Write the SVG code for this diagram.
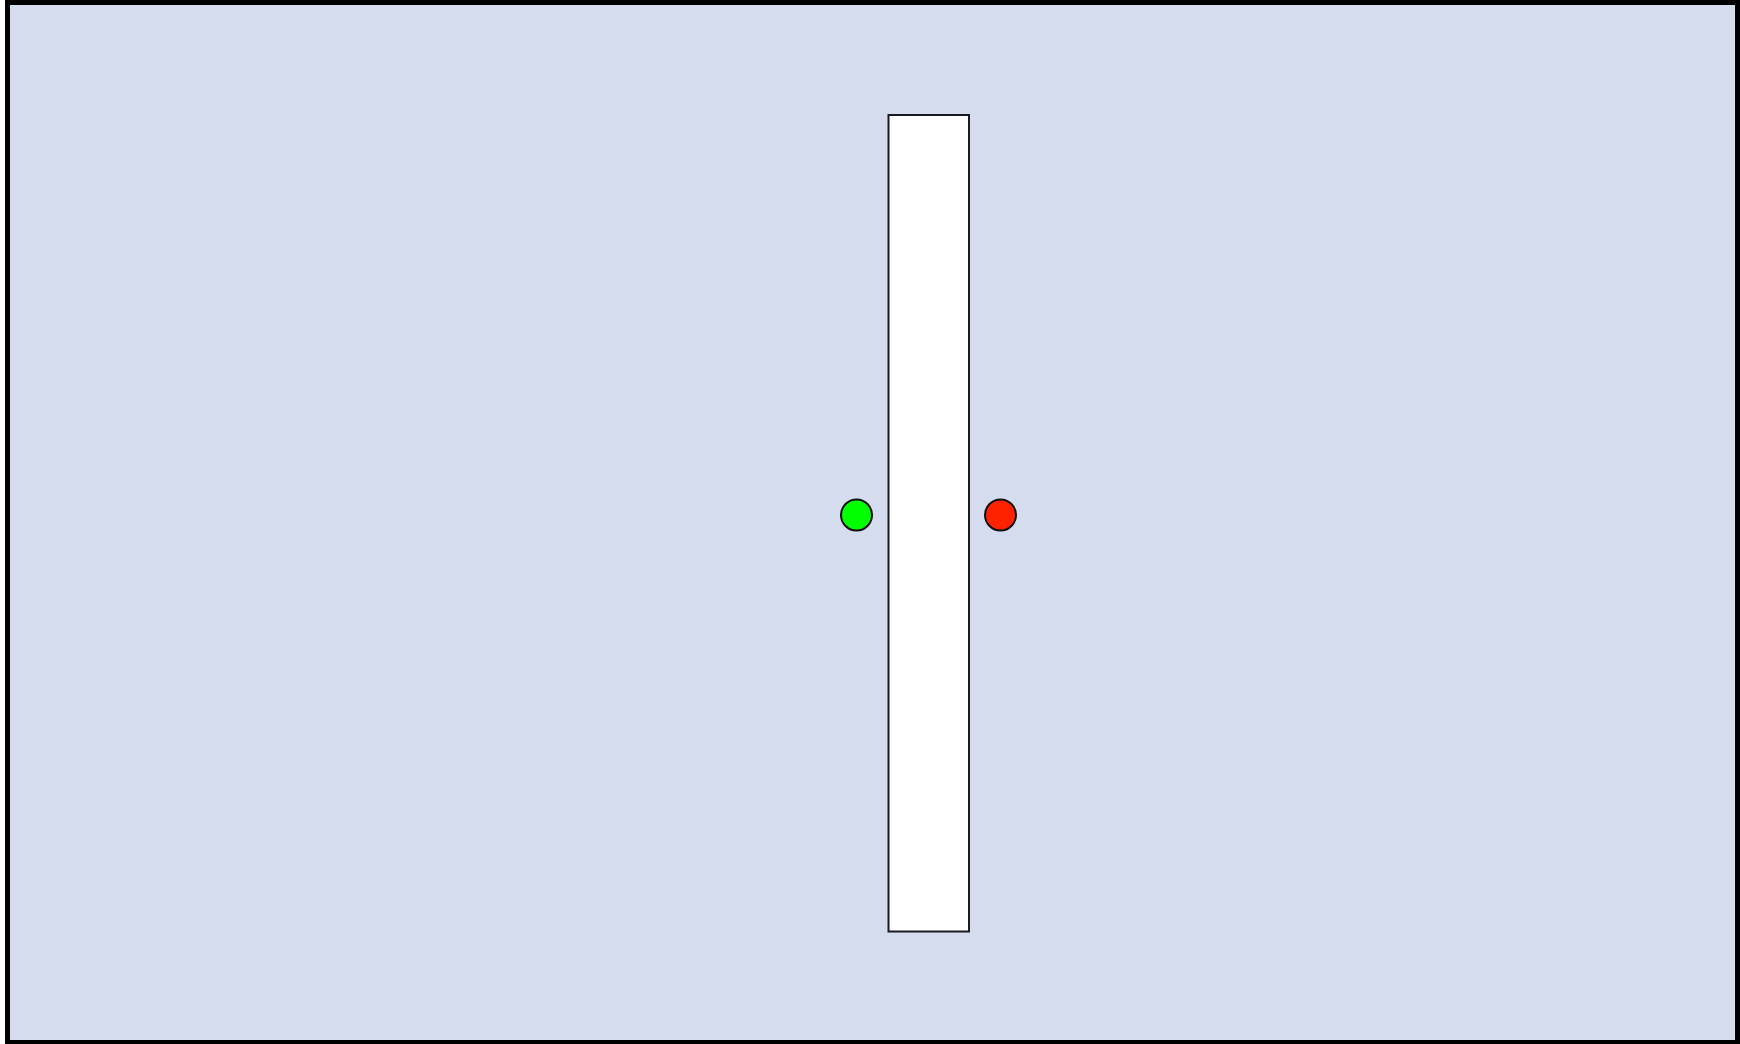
<svg xmlns="http://www.w3.org/2000/svg" width="1740" height="1044" viewBox="0 0 1740 1044">
<style>
.port{stroke:#111;stroke-width:2}
</style>
<rect x="7.5" y="2.5" width="1730" height="1040" fill="#d5dcee" stroke="#000" stroke-width="5"/>
<g id="bar"><rect x="888.5" y="115" width="80.5" height="816.5" fill="#fff" stroke="#1a1a22" stroke-width="2"/></g>
<g id="green"><circle class="port" cx="856.5" cy="515" r="15.5" fill="#00ff00"/></g>
<g id="red"><circle class="port" cx="1000.5" cy="515" r="15.5" fill="#ff2200"/></g>
<g id="connectors"></g>
</svg>
